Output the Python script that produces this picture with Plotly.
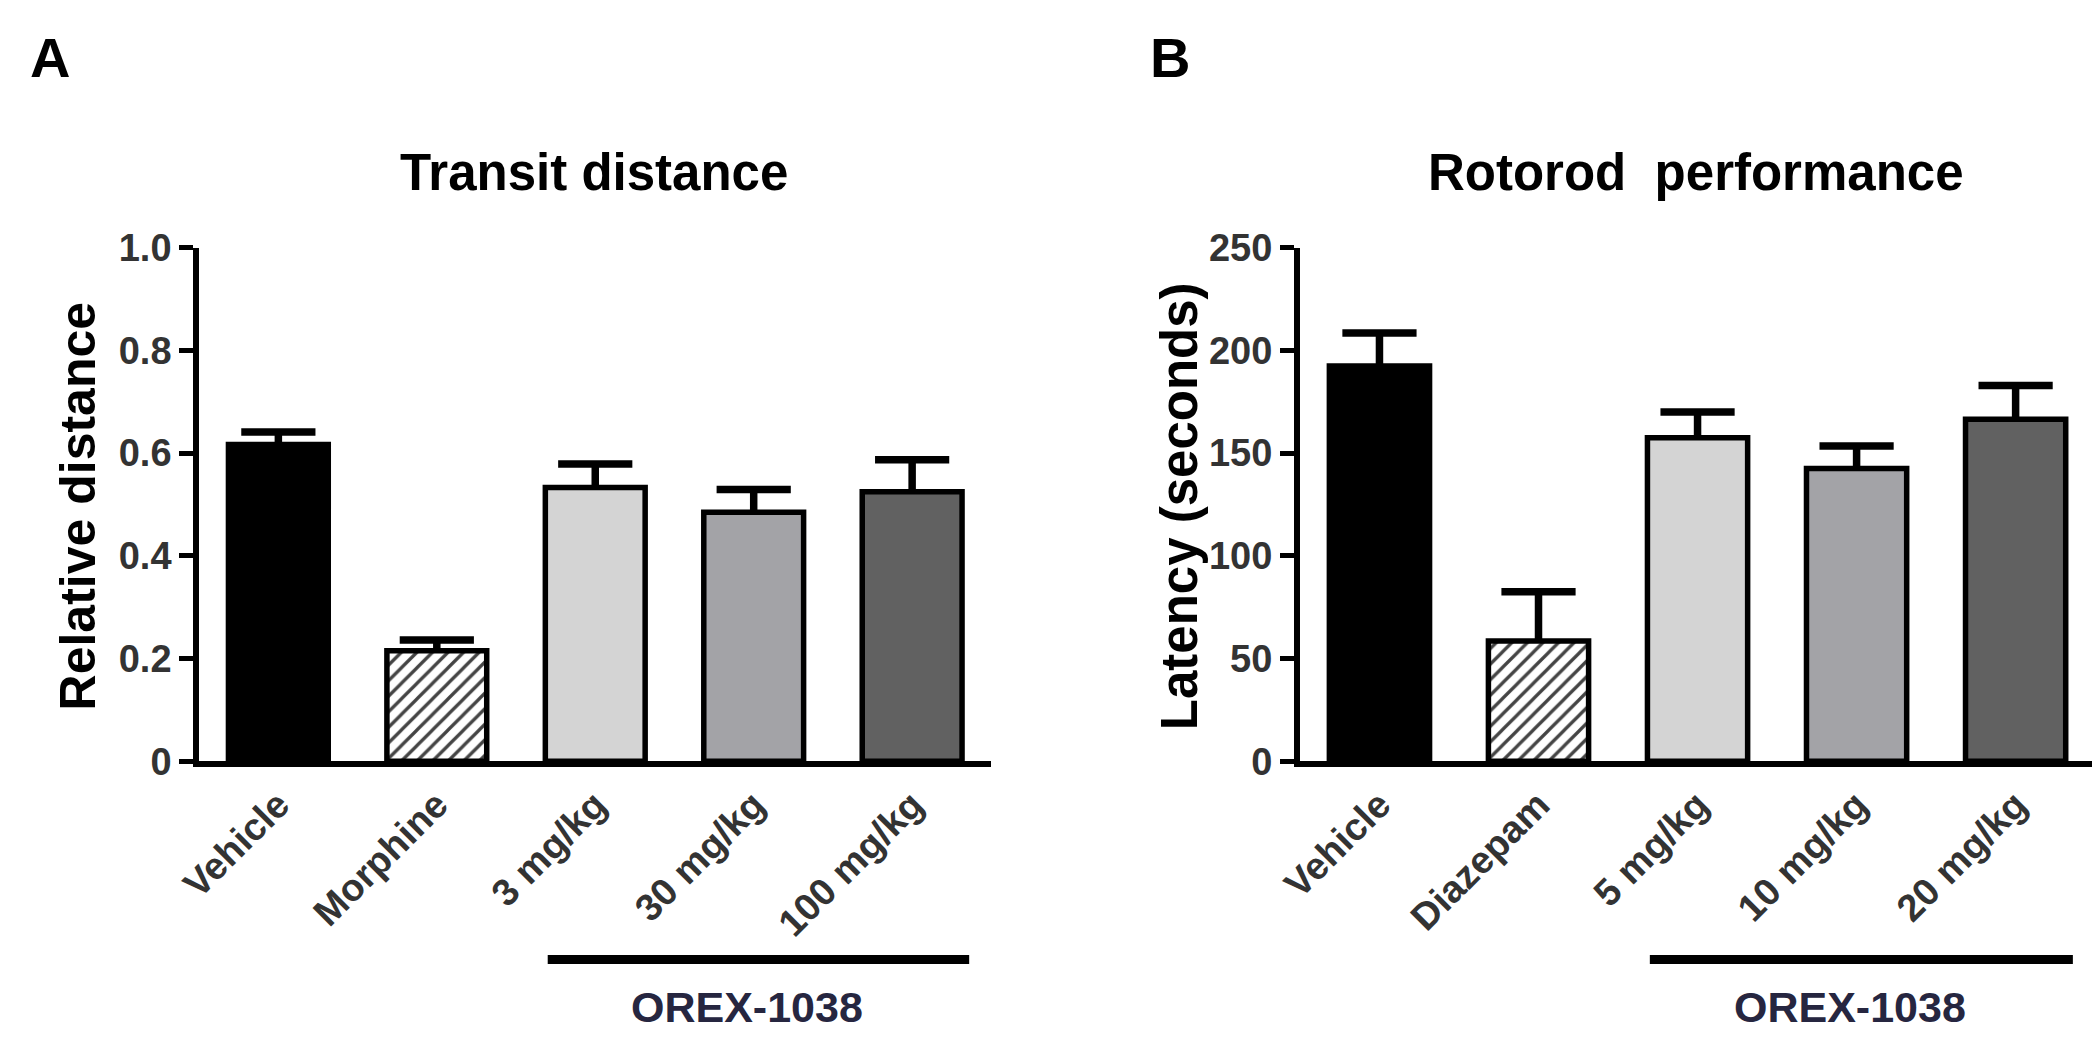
import plotly.graph_objects as go

# ---------------- data ----------------
cats_a = ["Vehicle", "Morphine", "3 mg/kg", "30 mg/kg", "100 mg/kg"]
vals_a = [0.617, 0.215, 0.533, 0.485, 0.525]
err_a = [0.024, 0.021, 0.046, 0.044, 0.062]

cats_b = ["Vehicle", "Diazepam", "5 mg/kg", "10 mg/kg", "20 mg/kg"]
vals_b = [192.5, 58.5, 157.5, 142.5, 166.5]
err_b = [16, 24, 12.5, 11, 16.5]

bar_colors = ["#000000", "#ffffff", "#d4d4d4", "#a3a3a7", "#616161"]
bar_patterns = ["", "/", "", "", ""]

yticks_a = [0, 0.2, 0.4, 0.6, 0.8, 1.0]
yticklabels_a = ["0", "0.2", "0.4", "0.6", "0.8", "1.0"]
yticks_b = [0, 50, 100, 150, 200, 250]
yticklabels_b = ["0", "50", "100", "150", "200", "250"]

W, H = 2100, 1041
OFF = 8  # default page body margin
FONT = "Liberation Sans, Arial, Helvetica, sans-serif"
TICK_COLOR = "#333333"


def px_x(x):
    return (x - OFF) / W


def px_y(y):
    return 1 - (y - OFF) / H


fig = go.Figure()


def add_panel(cats, vals, errs, xa, ya):
    xs = list(range(len(cats)))
    fig.add_trace(go.Bar(
        x=xs, y=vals, width=0.63,
        marker=dict(color=bar_colors,
                    line=dict(color="black", width=5.5),
                    pattern=dict(shape=bar_patterns, fgcolor="black", fgopacity=1,
                                 fillmode="overlay", size=11, solidity=0.3)),
        xaxis=xa, yaxis=ya, showlegend=False, hoverinfo="skip",
    ))
    # error bar stems (upper only)
    fig.add_trace(go.Scatter(
        x=xs, y=vals, mode="markers",
        marker=dict(size=1, color="rgba(0,0,0,0)"),
        error_y=dict(type="data", symmetric=False, array=errs,
                     arrayminus=[0] * len(errs), color="black",
                     thickness=7.5, width=0),
        xaxis=xa, yaxis=ya, showlegend=False, hoverinfo="skip",
    ))
    # caps
    fig.add_trace(go.Scatter(
        x=xs, y=[v + e for v, e in zip(vals, errs)], mode="markers",
        marker=dict(symbol="line-ew", size=53, line=dict(color="black", width=7.5)),
        xaxis=xa, yaxis=ya, showlegend=False, hoverinfo="skip",
    ))


add_panel(cats_a, vals_a, err_a, "x", "y")
add_panel(cats_b, vals_b, err_b, "x2", "y2")

ydom = [px_y(771), px_y(236)]

xcommon = dict(range=[-0.5, 4.5], showline=True, linewidth=6, linecolor="black",
               ticks="", showgrid=False, zeroline=False, tickangle=-45,
               tickfont=dict(family=FONT, size=38, color=TICK_COLOR, weight="bold"),
               tickmode="array", tickvals=list(range(5)))
ycommon = dict(showline=True, linewidth=6, linecolor="black", ticks="outside",
               ticklen=14, tickwidth=5, tickcolor="black", showgrid=False,
               zeroline=False, domain=ydom,
               tickfont=dict(family=FONT, size=38, color=TICK_COLOR, weight="bold"))

fig.update_layout(
    width=W, height=H, margin=dict(l=0, r=0, t=0, b=0),
    paper_bgcolor="white", plot_bgcolor="white",
    xaxis=dict(xcommon, domain=[px_x(178), px_x(979)], ticktext=cats_a, anchor="y"),
    yaxis=dict(ycommon, range=[0, 1.0], tickvals=yticks_a, ticktext=yticklabels_a,
               tickmode="array", anchor="x"),
    xaxis2=dict(xcommon, domain=[px_x(1291), px_x(2095)], ticktext=cats_b, anchor="y2"),
    yaxis2=dict(ycommon, range=[0, 250], tickvals=yticks_b, ticktext=yticklabels_b,
                tickmode="array", anchor="x2"),
)

ann = []
ann.append(dict(text="A", x=px_x(5), y=px_y(3), xref="paper", yref="paper",
                xanchor="left", yanchor="top", showarrow=False,
                font=dict(family=FONT, size=56, color="black", weight="bold")))
ann.append(dict(text="B", x=px_x(1137), y=px_y(3), xref="paper", yref="paper",
                xanchor="left", yanchor="top", showarrow=False,
                font=dict(family=FONT, size=56, color="black", weight="bold")))
ann.append(dict(text="Transit distance", x=px_x(577), y=px_y(158), xref="paper", yref="paper",
                xanchor="center", yanchor="middle", showarrow=False,
                font=dict(family=FONT, size=51, color="black", weight="bold")))
ann.append(dict(text="Rotorod\u00a0 performance", x=px_x(1691), y=px_y(158), xref="paper",
                yref="paper", xanchor="center", yanchor="middle", showarrow=False,
                font=dict(family=FONT, size=51, color="black", weight="bold")))
ann.append(dict(text="Relative distance", x=px_x(55), y=px_y(505), xref="paper", yref="paper",
                xanchor="center", yanchor="middle", textangle=-90, showarrow=False,
                font=dict(family=FONT, size=50, color="black", weight="bold")))
ann.append(dict(text="Latency (seconds)", x=px_x(1170), y=px_y(505), xref="paper", yref="paper",
                xanchor="center", yanchor="middle", textangle=-90, showarrow=False,
                font=dict(family=FONT, size=51, color="black", weight="bold")))
for xr in ["x", "x2"]:
    ann.append(dict(text="OREX-1038", x=2.96, y=px_y(1000), xref=xr, yref="paper",
                    xanchor="center", yanchor="top", showarrow=False,
                    font=dict(family=FONT, size=43, color="#262640", weight="bold")))
    fig.add_shape(type="line", xref=xr, yref="paper", x0=1.70, x1=4.36,
                  y0=px_y(977.5), y1=px_y(977.5), line=dict(color="black", width=9))

fig.update_layout(annotations=ann)

fig.write_html("out.html")
